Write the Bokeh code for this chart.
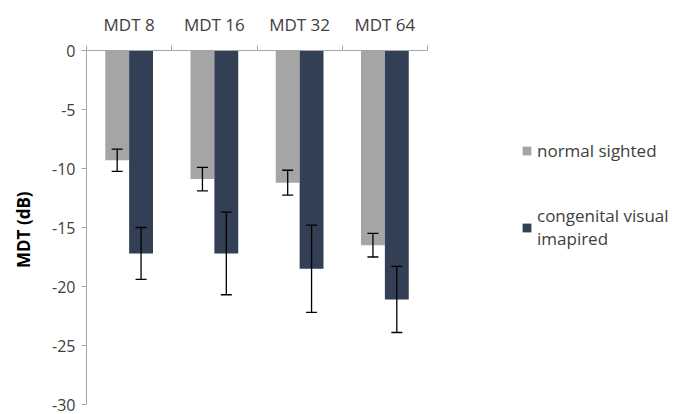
from bokeh.plotting import figure
from bokeh.models import (Range1d, LinearAxis, FixedTicker,
                          ColumnDataSource, Whisker, Legend, LegendItem)
from bokeh.transform import dodge
from bokeh.embed import file_html
from bokeh.resources import INLINE

categories = ["MDT 8", "MDT 16", "MDT 32", "MDT 64"]
normal = [-9.3, -10.9, -11.2, -16.5]
normal_err = [0.95, 1.0, 1.05, 1.0]
impaired = [-17.2, -17.2, -18.5, -21.1]
impaired_err = [2.2, 3.5, 3.7, 2.8]
y_ticks = [-30, -25, -20, -15, -10, -5, 0]

series_names = ["normal sighted", "congenital visual\nimapired"]

GRAY = "#a5a5a5"
DARK = "#333f55"
TXT = "#404040"
AX = "#a6a6a6"
FONT = "Open Sans"

n = len(categories)
centers = [i + 0.5 for i in range(n)]

# layout: frame spans to the right edge so the legend can sit inside it;
# the category axis itself covers 341 px of the 592 px frame
FRAME_W = 678 - 86
AXIS_W = 341
x_end = n * FRAME_W / AXIS_W

src = ColumnDataSource(dict(
    xc=centers,
    normal=normal,
    n_lo=[v - e for v, e in zip(normal, normal_err)],
    n_hi=[v + e for v, e in zip(normal, normal_err)],
    impaired=impaired,
    i_lo=[v - e for v, e in zip(impaired, impaired_err)],
    i_hi=[v + e for v, e in zip(impaired, impaired_err)],
))

p = figure(width=678, height=414, x_range=Range1d(0, x_end), y_range=Range1d(-30, 0),
           x_axis_location=None, y_axis_location=None, output_backend="svg",
           toolbar_location=None, min_border_left=86, min_border_right=0,
           min_border_top=50, min_border_bottom=10)
p.outline_line_color = None
p.xgrid.grid_line_color = None
p.ygrid.grid_line_color = None

# tick axis at category boundaries
bounds = list(range(n + 1))
tick_ax = LinearAxis(ticker=FixedTicker(ticks=bounds), bounds=(0, n),
                     major_label_overrides={b: "" for b in bounds})
tick_ax.major_label_standoff = 0
tick_ax.axis_line_color = AX
tick_ax.major_tick_line_color = AX
tick_ax.major_tick_out = 5
tick_ax.major_tick_in = 0
tick_ax.minor_tick_line_color = None
p.add_layout(tick_ax, "above")

cat_ax = LinearAxis(ticker=FixedTicker(ticks=centers),
                    major_label_overrides={c: lab for c, lab in zip(centers, categories)})
cat_ax.axis_line_color = None
cat_ax.major_tick_line_color = None
cat_ax.minor_tick_line_color = None
cat_ax.major_label_text_font = FONT
cat_ax.major_label_text_font_size = "17px"
cat_ax.major_label_text_color = TXT
cat_ax.major_label_standoff = 4
p.add_layout(cat_ax, "above")

yax = LinearAxis(ticker=FixedTicker(ticks=y_ticks),
                 major_label_overrides={t: str(t) for t in y_ticks})
yax.axis_line_color = AX
yax.major_tick_line_color = AX
yax.major_tick_out = 5
yax.major_tick_in = 0
yax.minor_tick_line_color = None
yax.major_label_text_font = FONT
yax.major_label_text_font_size = "16px"
yax.major_label_text_color = TXT
yax.major_label_standoff = 6
yax.axis_label = "MDT  (dB)"
yax.axis_label_text_font = FONT
yax.axis_label_text_font_size = "17px"
yax.axis_label_text_font_style = "bold"
yax.axis_label_text_color = "#000000"
yax.axis_label_standoff = 14
p.add_layout(yax, "left")

w = 0.28
r1 = p.vbar(x=dodge("xc", -w / 2), top=0, bottom="normal", width=w,
            source=src, fill_color=GRAY, line_color=None)
r2 = p.vbar(x=dodge("xc", w / 2), top=0, bottom="impaired", width=w,
            source=src, fill_color=DARK, line_color=None)

for off, lo, hi in [(-w / 2, "n_lo", "n_hi"), (w / 2, "i_lo", "i_hi")]:
    wh = Whisker(base=dodge("xc", off), lower=lo, upper=hi, source=src,
                 line_color="black", line_width=1.3, level="overlay")
    wh.upper_head.size = 11
    wh.lower_head.size = 11
    wh.upper_head.line_color = "black"
    wh.lower_head.line_color = "black"
    wh.upper_head.line_width = 1.3
    wh.lower_head.line_width = 1.3
    p.add_layout(wh)

legend = Legend(items=[LegendItem(label=series_names[0], renderers=[r1]),
                       LegendItem(label=series_names[1], renderers=[r2])],
                location=(435, 154), orientation="vertical")
legend.border_line_color = None
legend.background_fill_alpha = 0
legend.padding = 0
legend.margin = 0
legend.spacing = 42
legend.glyph_width = 11
legend.glyph_height = 11
legend.label_height = 20
legend.label_standoff = 5
legend.label_text_font = FONT
legend.label_text_font_size = "17px"
legend.label_text_color = TXT
p.add_layout(legend)

open("out.html", "w").write(file_html(p, INLINE))
